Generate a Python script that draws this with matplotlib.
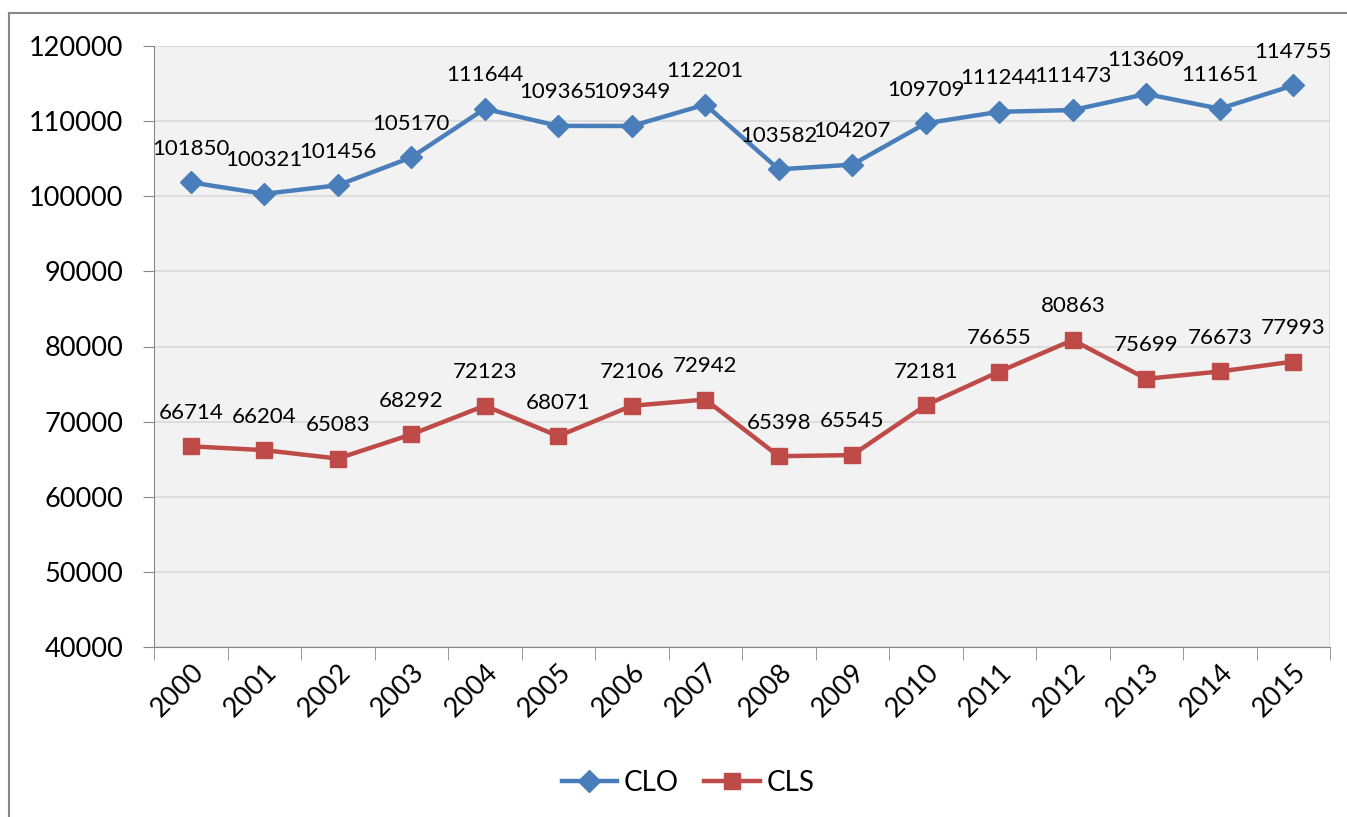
import matplotlib.pyplot as plt
from matplotlib.lines import Line2D

plt.rcParams['font.family'] = ['Lato', 'DejaVu Sans']

years = ['2000', '2001', '2002', '2003', '2004', '2005', '2006', '2007',
         '2008', '2009', '2010', '2011', '2012', '2013', '2014', '2015']
clo = [101850, 100321, 101456, 105170, 111644, 109365, 109349, 112201,
       103582, 104207, 109709, 111244, 111473, 113609, 111651, 114755]
cls = [66714, 66204, 65083, 68292, 72123, 68071, 72106, 72942,
       65398, 65545, 72181, 76655, 80863, 75699, 76673, 77993]

blue = '#4a7ebb'
red = '#be4b48'

fig = plt.figure(figsize=(13.47, 8.17), dpi=100)
ax = fig.add_axes([154/1347, 1 - 647/817, 1176/1347, 601/817])
ax.set_facecolor('#f2f2f2')

x = list(range(len(years)))
ax.plot(x, clo, color=blue, lw=3.2, marker='D', ms=11, label='CLO')
ax.plot(x, cls, color=red, lw=3.2, marker='s', ms=12, label='CLS')

for i in x:
    ax.annotate(str(clo[i]), (i, clo[i]), xytext=(0, 17), textcoords='offset points',
                ha='center', va='bottom', fontsize=16)
    ax.annotate(str(cls[i]), (i, cls[i]), xytext=(0, 17), textcoords='offset points',
                ha='center', va='bottom', fontsize=16)

ax.set_xlim(-0.5, len(years) - 0.5)
ax.set_ylim(40000, 120000)
ax.set_yticks(range(40000, 120001, 10000))
ax.tick_params(axis='y', labelsize=19.5, length=8, color='#888888', pad=14)
ax.set_xticks(x)
ax.set_xticklabels(years, rotation=45, ha='right', rotation_mode='anchor', fontsize=19.5)
ax.tick_params(axis='x', length=0, pad=9)
# boundary tick marks between categories
ax.set_xticks([i - 0.5 for i in range(len(years) + 1)], minor=True)
ax.tick_params(axis='x', which='minor', length=9, color='#888888')

ax.grid(axis='y', color='#d9d9d9', lw=1.2)
ax.set_axisbelow(True)
for s in ['top', 'right']:
    ax.spines[s].set_visible(False)
ax.spines['left'].set_color('#888888')
ax.spines['bottom'].set_color('#888888')
ax.axvline(len(years) - 0.5, color='#d9d9d9', lw=1.2, zorder=0)

leg = fig.legend(loc='center', bbox_to_anchor=(688/1347, 1 - 783/817), ncol=2, frameon=False,
                 fontsize=20, handlelength=2.0, columnspacing=0.9, handletextpad=0.25)

# outer chart frame
fig.add_artist(Line2D([9/1347, 1], [1 - 13/817, 1 - 13/817], color='#888888', lw=1.5))
fig.add_artist(Line2D([9/1347, 9/1347], [0, 1 - 13/817], color='#888888', lw=1.5))

fig.savefig('out.png', dpi=100)
